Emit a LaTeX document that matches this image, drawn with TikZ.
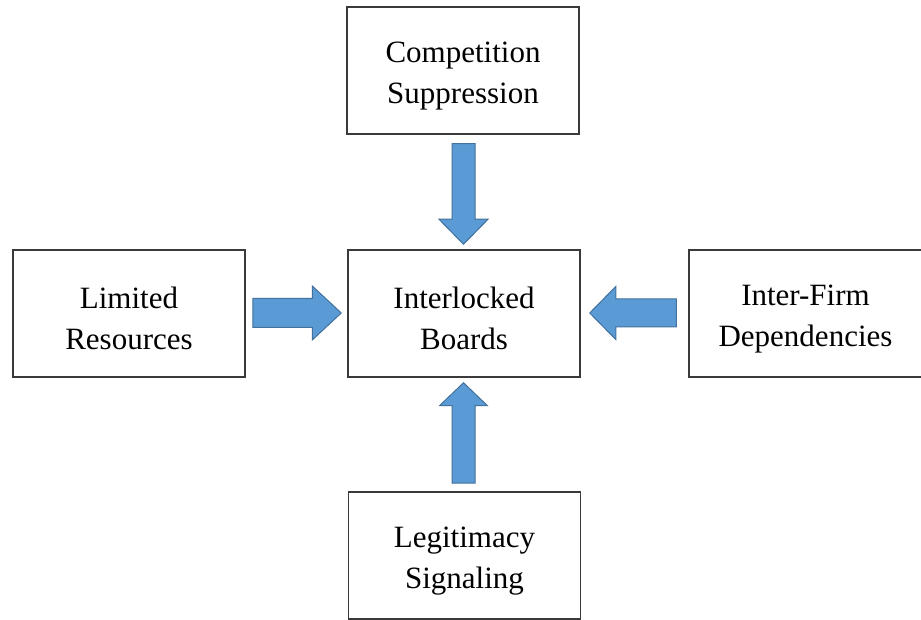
\documentclass[tikz,border=0pt]{standalone}
\usepackage{fontspec}
\setmainfont{Liberation Serif}
\usetikzlibrary{calc}
\definecolor{boxline}{HTML}{3A3A3A}
\definecolor{arrowfill}{HTML}{5B9BD5}
\definecolor{arrowline}{HTML}{41719C}
\tikzset{
  factor/.style={draw=boxline, line width=1.5pt, fill=white, rectangle,
    minimum width=232pt, minimum height=127pt, align=center,
    font=\fontsize{31}{41}\selectfont, inner sep=0pt},
  blockarrow/.style={fill=arrowfill, draw=arrowline, line width=1pt, line join=miter}
}
% taller first line so the two-line labels sit a little below the box centre
\newcommand{\firstline}{\rule{0pt}{32pt}}
% block arrow from #1 to #2: shaft half width #3, head half width #4, head length #5
\newcommand{\fatarrow}[5]{%
  \draw[blockarrow]
    ($(#1)!#3!90:(#2)$) --
    ($(#2)!#5!(#1)!#3!90:(#2)$) --
    ($(#2)!#5!(#1)!#4!90:(#2)$) --
    (#2) --
    ($(#2)!#5!(#1)!#4!-90:(#2)$) --
    ($(#2)!#5!(#1)!#3!-90:(#2)$) --
    ($(#1)!#3!-90:(#2)$) -- cycle;
}
\begin{document}
\begin{tikzpicture}[x=1pt,y=1pt]
  \useasboundingbox (0,0) rectangle (921,620);

  \node[factor] (center) at (464,306.5) {\firstline Interlocked\\Boards};
  \node[factor] (top)    at (463,549.5) {\firstline Competition\\Suppression};
  \node[factor] (left)   at (129,306.5) {\firstline Limited\\Resources};
  \node[factor, minimum width=233pt] (right) at (805.5,306.5) {\firstline Inter-Firm\\Dependencies};
  \node[factor] (bottom) at (464.5,64.5) {\firstline Legitimacy\\Signaling};

  % arrow end points, placed in the gaps between the boxes
  \coordinate (topS)    at ($(top.south)+(0.5,-9)$);
  \coordinate (topT)    at ($(center.north)+(-0.5,5)$);
  \coordinate (leftS)   at ($(left.east)+(7,0.5)$);
  \coordinate (leftT)   at ($(center.west)+(-6,0.5)$);
  \coordinate (rightS)  at ($(right.west)+(-12,0.5)$);
  \coordinate (rightT)  at ($(center.east)+(9,0.5)$);
  \coordinate (botS)    at ($(bottom.north)+(-1,8)$);
  \coordinate (botT)    at ($(center.south)+(-0.5,-5)$);

  \fatarrow{topS}{topT}{11.5pt}{24.5pt}{25pt}
  \fatarrow{leftS}{leftT}{14.5pt}{27pt}{29pt}
  \fatarrow{rightS}{rightT}{14pt}{26.5pt}{26pt}
  \fatarrow{botS}{botT}{11.5pt}{24pt}{23pt}
\end{tikzpicture}
\end{document}
